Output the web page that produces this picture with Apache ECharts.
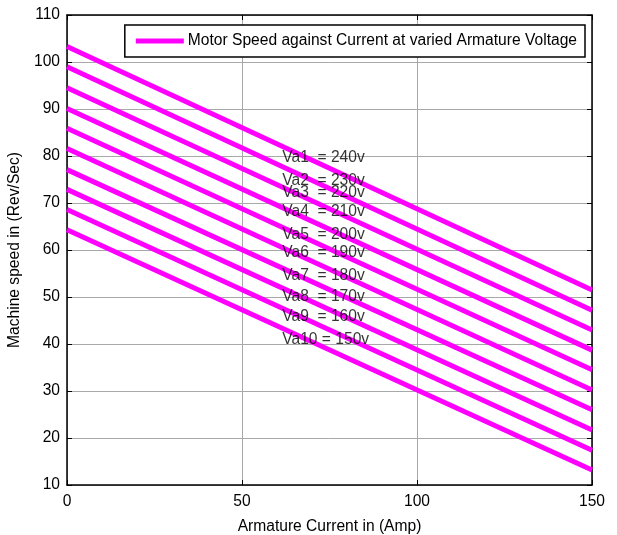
<!DOCTYPE html>
<html>
<head>
<meta charset="utf-8">
<script src="https://cdn.jsdelivr.net/npm/echarts@6/dist/echarts.min.js"></script>
<style>html,body{margin:0;padding:0;background:#fff}#c{width:617px;height:535px}</style>
</head>
<body>
<div id="c"></div>
<script>
// Armature current endpoints (Amp)
var currentX = [0, 150];
// Speed at I=0 and I=150 for each armature voltage (Rev/Sec)
var speedStart = [103.3, 99.0, 94.5, 90.1, 85.9, 81.6, 77.1, 72.9, 68.6, 64.3];
var speedEnd   = [51.5, 47.2, 43.0, 38.7, 34.5, 30.2, 26.0, 21.7, 17.4, 13.2];
var labelTexts = ['Va1  = 240v','Va2  = 230v','Va3  = 220v','Va4  = 210v','Va5  = 200v',
                  'Va6  = 190v','Va7  = 180v','Va8  = 170v','Va9  = 160v','Va10 = 150v'];
var labelX = [61.5, 61.5, 61.5, 61.5, 61.5, 61.5, 61.5, 61.5, 61.5, 61.5];
var labelY = [79.6, 74.8, 72.1, 68.1, 63.2, 59.4, 54.5, 50.1, 45.8, 41.0];
var legendName = 'Motor Speed against Current at varied Armature Voltage';
var xTicks = [0, 50, 100, 150];
var yTicks = [10, 20, 30, 40, 50, 60, 70, 80, 90, 100, 110];

var FONT = 'Liberation Sans, Arial, sans-serif';
var FS = 15.6;
var chart = echarts.init(document.getElementById('c'), null, {renderer: 'canvas'});
var series = [];
for (var i = 0; i < speedStart.length; i++) {
  series.push({
    name: i === 0 ? legendName : 'Va' + (i + 1),
    type: 'line',
    xAxisIndex: 0, yAxisIndex: 0,
    z: 2,
    data: [[currentX[0], speedStart[i]], [currentX[1], speedEnd[i]]],
    showSymbol: false, symbol: 'none',
    lineStyle: {color: '#ff00ff', width: 5},
    itemStyle: {color: '#ff00ff'},
    animation: false, silent: true
  });
}
series.push({
  name: 'labels', type: 'scatter', xAxisIndex: 0, yAxisIndex: 0,
  z: 20, zlevel: 1,
  symbolSize: 0, silent: true, animation: false,
  data: labelX.map(function (x, i) { return {value: [x, labelY[i]], name: labelTexts[i]}; }),
  label: {show: true, position: 'right', distance: 0, formatter: function (p) { return p.name; },
          color: '#000', fontSize: FS, fontFamily: FONT}
});

var option = {
  backgroundColor: '#fff',
  animation: false,
  grid: {left: 67, right: 25, top: 15, bottom: 50, containLabel: false, outerBoundsMode: 'none'},
  legend: {
    data: [{name: legendName, icon: 'rect'}],
    right: 32, top: 25,
    itemWidth: 48, itemHeight: 5, itemGap: 4,
    padding: [8, 8, 8, 11],
    borderColor: '#000', borderWidth: 1.5, backgroundColor: '#fff',
    textStyle: {color: '#000', fontSize: FS, fontFamily: FONT, padding: [0, 0, 0, -1]}
  },
  xAxis: [{
    type: 'value', min: 0, max: 150, interval: 50, position: 'bottom',
    name: 'Armature Current in (Amp)', nameLocation: 'middle', nameGap: 34,
    nameTextStyle: {color: '#000', fontSize: FS, fontFamily: FONT},
    axisLine: {show: true, onZero: false, lineStyle: {color: '#000', width: 1.5}},
    axisTick: {show: true, inside: true, length: 5, lineStyle: {color: '#000'}},
    axisLabel: {color: '#000', fontSize: FS, fontFamily: FONT, margin: 9},
    splitLine: {show: true, lineStyle: {color: '#a8a8a8', width: 1}}
  }, {
    type: 'value', min: 0, max: 150, interval: 50, position: 'top',
    axisLine: {show: true, onZero: false, lineStyle: {color: '#000', width: 1.5}},
    axisTick: {show: true, inside: true, length: 5, lineStyle: {color: '#000'}},
    axisLabel: {show: false}, splitLine: {show: false}
  }],
  yAxis: [{
    type: 'value', min: 10, max: 110, interval: 10, position: 'left',
    name: 'Machine speed in (Rev/Sec)', nameLocation: 'middle', nameGap: 43,
    nameTextStyle: {color: '#000', fontSize: FS, fontFamily: FONT},
    axisLine: {show: true, onZero: false, lineStyle: {color: '#000', width: 1.5}},
    axisTick: {show: true, inside: true, length: 5, lineStyle: {color: '#000'}},
    axisLabel: {color: '#000', fontSize: FS, fontFamily: FONT, margin: 7},
    splitLine: {show: true, lineStyle: {color: '#a8a8a8', width: 1}}
  }, {
    type: 'value', min: 10, max: 110, interval: 10, position: 'right',
    axisLine: {show: true, onZero: false, lineStyle: {color: '#000', width: 1.5}},
    axisTick: {show: true, inside: true, length: 5, lineStyle: {color: '#000'}},
    axisLabel: {show: false}, splitLine: {show: false}
  }],
  series: series
};
chart.setOption(option);
</script>
</body>
</html>
